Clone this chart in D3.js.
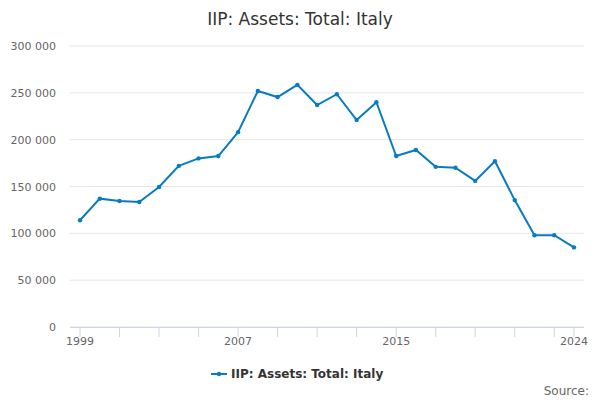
<!DOCTYPE html>
<html><head><meta charset="utf-8">
<script src="https://cdn.jsdelivr.net/npm/d3@7"></script>
<style>body{margin:0;background:#fff;font-family:"DejaVu Sans",sans-serif}</style>
</head><body><svg id="c" width="600" height="400"></svg>
<script>
const years = d3.range(1999, 2025);
const values = [114,137,134.5,133.5,149.5,172,180,182.5,208,252,245.5,258.5,237,248.5,221,240,182.5,189,171,170,156,177,135.5,98,98,85].map(v=>v*1000);
const yTicks = [0,50000,100000,150000,200000,250000,300000];
const xLabels = [1999,2007,2015,2024];
const xTickMarks = [1999,2001,2003,2005,2007,2009,2011,2013,2015,2017,2019,2021,2023,2024];
const title = "IIP: Assets: Total: Italy";
const color = "#0a7bc1";

const svg = d3.select("#c");
const x = d3.scaleLinear().domain([1999,2024]).range([80,574]);
const y = d3.scaleLinear().domain([0,300000]).range([327,46]);
const fmt = v => d3.format(",")(v).replace(/,/g," ");

svg.append("text").attr("x",300).attr("y",25).attr("text-anchor","middle").attr("font-size",17).attr("fill","#333").text(title);

svg.append("g").selectAll("line").data(yTicks).join("line")
  .attr("x1",70).attr("x2",584).attr("y1",d=>y(d)).attr("y2",d=>y(d))
  .attr("stroke","#e6e6e6");
svg.append("g").selectAll("text").data(yTicks).join("text")
  .attr("x",56).attr("y",d=>y(d)+4).attr("text-anchor","end").attr("font-size",11).attr("fill","#666").text(fmt);

svg.append("line").attr("x1",70).attr("x2",584).attr("y1",327.5).attr("y2",327.5).attr("stroke","#ccd6eb");
svg.append("g").selectAll("line").data(xTickMarks).join("line")
  .attr("x1",d=>x(d)).attr("x2",d=>x(d)).attr("y1",327).attr("y2",337).attr("stroke","#ccd6eb");
svg.append("g").selectAll("text").data(xLabels).join("text")
  .attr("x",d=>x(d)).attr("y",345).attr("text-anchor","middle").attr("font-size",11).attr("fill","#666").text(d=>d);

const line = d3.line().x((d,i)=>x(years[i])).y(d=>y(d));
svg.append("path").datum(values).attr("d",line).attr("fill","none").attr("stroke",color).attr("stroke-width",2);
svg.append("g").selectAll("circle").data(values).join("circle")
  .attr("cx",(d,i)=>x(years[i])).attr("cy",d=>y(d)).attr("r",2.2).attr("fill",color);

const lg = svg.append("g");
lg.append("line").attr("x1",211).attr("x2",227).attr("y1",374).attr("y2",374).attr("stroke",color).attr("stroke-width",2);
lg.append("circle").attr("cx",219).attr("cy",374).attr("r",2.2).attr("fill",color);
lg.append("text").attr("x",231).attr("y",378).attr("font-size",12).attr("font-weight","bold").attr("fill","#333").text(title);

svg.append("text").attr("x",589).attr("y",395).attr("text-anchor","end").attr("font-size",12).attr("fill","#666").text("Source:");
</script></body></html>
